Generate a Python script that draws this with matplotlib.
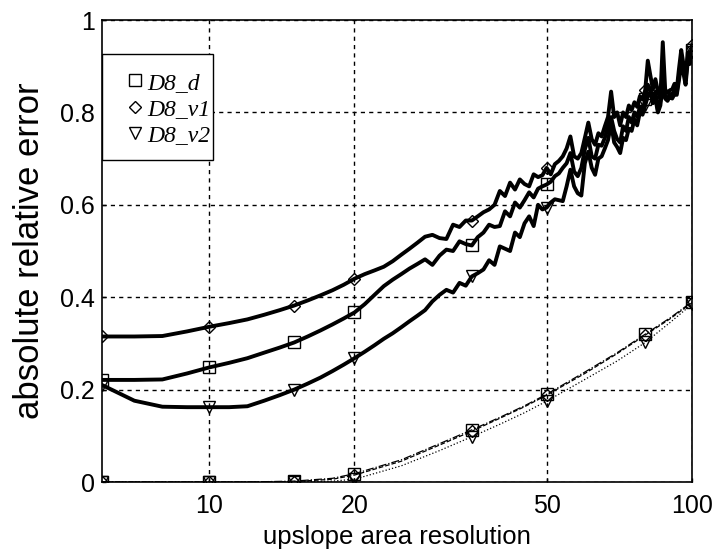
import matplotlib.pyplot as plt
import matplotlib.ticker as mticker
from matplotlib.lines import Line2D
from matplotlib.patches import Rectangle

# upslope area resolution (integer steps)
res = list(range(6, 101))

# absolute relative error, upper (thick) curves
err_d = [.221, .221, .222, .235, .248, .258, .268, .280, .291, .302, .315, .328, .341, .354, .367,
         .385, .405, .424, .438, .450, .462, .472, .482, .470, .490, .503, .500, .521, .515, .512,
         .530, .540, .557, .552, .554, .586, .575, .605, .594, .610, .627, .616, .635, .640,
         .644, .650, .662, .668, .680, .690, .712, .672, .662, .680, .720, .745, .705, .700, .730,
         .728, .745, .770, .790, .760, .742, .735, .770, .760, .790, .778, .800, .790, .812, .805,
         .828, .860, .850, .830, .845, .805, .825, .880, .835, .830, .840, .838, .848, .842, .880,
         .915, .895, .868, .920, .915, .935]
err_v1 = [.315, .315, .316, .326, .336, .344, .352, .362, .372, .382, .393, .404, .415, .427, .440,
          .450, .458, .466, .478, .492, .505, .518, .531, .535, .528, .526, .557, .552, .566, .566,
          .575, .584, .590, .600, .630, .619, .648, .633, .655, .645, .640, .666, .660, .664,
          .680, .666, .688, .695, .705, .722, .748, .705, .700, .712, .745, .778, .742, .730, .755,
          .748, .770, .790, .845, .790, .800, .772, .800, .790, .815, .805, .822, .812, .835, .828,
          .848, .912, .880, .850, .872, .845, .830, .952, .850, .842, .848, .850, .862, .850, .895,
          .935, .905, .875, .930, .920, .945]
err_v2 = [.210, .176, .163, .162, .162, .162, .164, .176, .188, .200, .213, .226, .240, .254, .268,
          .282, .296, .310, .322, .335, .348, .360, .372, .391, .405, .416, .410, .431, .425, .445,
          .452, .460, .480, .470, .510, .505, .500, .540, .530, .560, .575, .554, .600, .590,
          .594, .605, .612, .610, .608, .640, .676, .640, .625, .620, .690, .715, .680, .665, .700,
          .705, .722, .740, .775, .735, .725, .712, .745, .740, .765, .760, .785, .772, .800, .795,
          .815, .835, .845, .820, .830, .800, .815, .860, .830, .825, .835, .830, .840, .838, .870,
          .905, .885, .860, .910, .905, .930]

# lower (thin) curves
res_low = [6, 8, 10, 12, 15, 18, 20, 25, 30, 35, 40, 45, 50, 60, 70, 80, 90, 100]
low_d = [0, 0, 0, 0, .002, .008, .018, .048, .083, .113, .140, .165, .190, .238, .280, .320, .355, .390]
low_v1 = [0, 0, 0, 0, .001, .006, .015, .045, .080, .110, .138, .163, .188, .235, .278, .318, .353, .388]
low_v2 = [0, 0, 0, 0, 0, .002, .006, .035, .068, .098, .125, .150, .175, .222, .262, .302, .345, .385]

mark_at = [6, 10, 15, 20, 35, 50, 80, 100]
labels = ['D8_d', 'D8_v1', 'D8_v2']
markers = ['s', 'D', 'v']
msize = {'s': 8, 'D': 6, 'v': 8}

sans = ['Liberation Sans', 'DejaVu Sans']
fig = plt.figure(figsize=(7.15, 5.5), dpi=100)
ax = fig.add_axes([0.1427, 0.1236, 0.8251, 0.84])

idx_up = [res.index(m) for m in mark_at]
idx_low = [res_low.index(m) for m in mark_at]

for y, mk in zip([err_d, err_v1, err_v2], markers):
    ax.plot(res, y, color='black', lw=2.8, marker=mk, markevery=idx_up,
            ms=msize[mk], mfc='none', mec='black', mew=1.0, zorder=3)

for y, mk, ls in zip([low_d, low_v1, low_v2], markers, ['-.', '--', ':']):
    ax.plot(res_low, y, color='black', lw=0.9, ls=ls, marker=mk, markevery=idx_low,
            ms=msize[mk], mfc='none', mec='black', mew=1.0, zorder=3)

ax.set_xscale('log')
ax.set_xlim(6, 100)
ax.set_ylim(0, 1)
ax.xaxis.set_major_locator(mticker.FixedLocator([10, 20, 50, 100]))
ax.xaxis.set_major_formatter(mticker.FixedFormatter(['10', '20', '50', '100']))
ax.xaxis.set_minor_locator(mticker.NullLocator())
ax.set_yticks([0, 0.2, 0.4, 0.6, 0.8, 1])
ax.set_yticklabels(['0', '0.2', '0.4', '0.6', '0.8', '1'])
ax.tick_params(direction='in', length=3, labelsize=18, width=1)
ax.tick_params(axis='x', pad=8.5)
ax.tick_params(axis='y', pad=5)
for lab in ax.get_xticklabels() + ax.get_yticklabels():
    lab.set_family(sans)

ax.grid(True, color='black', ls=(0, (3, 3)), lw=1.0)
for s in ax.spines.values():
    s.set_linewidth(1.2)

ax.set_xlabel('upslope area resolution', fontsize=18.5, family=sans, labelpad=5)
ax.set_ylabel('absolute relative error', fontsize=25, family=sans, labelpad=10)

# legend box
ax.add_patch(Rectangle((0, 0.698), 0.188, 0.228, transform=ax.transAxes,
                       facecolor='white', edgecolor='black', lw=1.0, zorder=4))
handles = [Line2D([], [], ls='none', marker=mk, ms=msize[mk], mfc='none',
                  mec='black', mew=1.0) for mk in markers]
leg = ax.legend(handles, labels, loc='center', bbox_to_anchor=(0.112, 0.807), borderaxespad=0,
                prop={'family': 'Liberation Serif', 'style': 'italic', 'size': 17},
                handlelength=0.8, handletextpad=0.15, labelspacing=0.2, borderpad=0,
                frameon=False)
leg.set_zorder(5)

plt.savefig('out.png', dpi=100)
